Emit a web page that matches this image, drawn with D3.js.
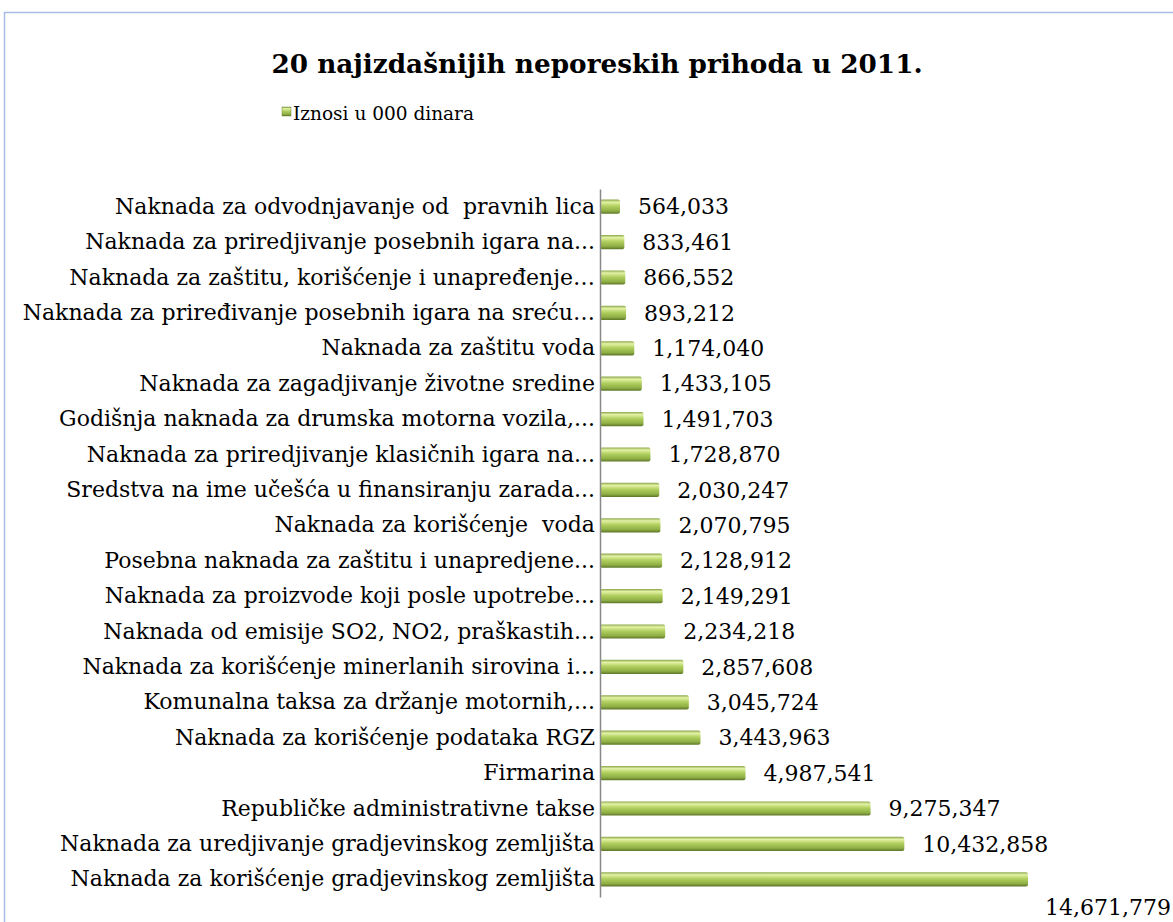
<!doctype html>
<html lang="en">
<head>
<meta charset="utf-8">
<title>20 najizdašnijih neporeskih prihoda u 2011.</title>
<script src="https://d3js.org/d3.v7.min.js"></script>
<style>
  body { margin:0; background:#fff; }
  text { font-family:"DejaVu Serif", serif; fill:#000; }
</style>
</head>
<body>
<script>
  var categories = [
    "Naknada za odvodnjavanje od  pravnih lica",
    "Naknada za priredjivanje posebnih igara na...",
    "Naknada za zaštitu, korišćenje i unapređenje…",
    "Naknada za priređivanje posebnih igara na sreću…",
    "Naknada za zaštitu voda",
    "Naknada za zagadjivanje životne sredine",
    "Godišnja naknada za drumska motorna vozila,...",
    "Naknada za priredjivanje klasičnih igara na...",
    "Sredstva na ime učešća u finansiranju zarada...",
    "Naknada za korišćenje  voda",
    "Posebna naknada za zaštitu i unapredjene...",
    "Naknada za proizvode koji posle upotrebe...",
    "Naknada od emisije SO2, NO2, praškastih...",
    "Naknada za korišćenje minerlanih sirovina i...",
    "Komunalna taksa za držanje motornih,...",
    "Naknada za korišćenje podataka RGZ",
    "Firmarina",
    "Republičke administrativne takse",
    "Naknada za uredjivanje gradjevinskog zemljišta",
    "Naknada za korišćenje gradjevinskog zemljišta"
  ];
  var values = [564033, 833461, 866552, 893212, 1174040, 1433105, 1491703, 1728870,
    2030247, 2070795, 2128912, 2149291, 2234218, 2857608, 3045724, 3443963,
    4987541, 9275347, 10432858, 14671779];
  var seriesName = "Iznosi u 000 dinara";
  var title = "20 najizdašnijih neporeskih prihoda u 2011.";

  var W = 1173, H = 922;
  var margin = {top:189, left:600, bottom:25, right:100};
  var fontSize = "22px";

  var svg = d3.select("body").append("svg")
    .attr("width", W).attr("height", H);

  var defs = svg.append("defs");
  var grad = defs.append("linearGradient").attr("id", "barGrad")
    .attr("x1", 0).attr("y1", 0).attr("x2", 0).attr("y2", 1);
  [[0, "#8aa64a"], [0.18, "#e4f2a6"], [0.45, "#b2d161"], [0.8, "#8fae44"], [1, "#5c7628"]]
    .forEach(function(s){ grad.append("stop").attr("offset", s[0]).attr("stop-color", s[1]); });

  // chart area border
  svg.append("path")
    .attr("d", "M4.5," + H + "V12.5H" + W)
    .attr("fill", "none").attr("stroke", "#a7bde3").attr("stroke-width", 1.5);

  svg.append("text")
    .attr("x", 597).attr("y", 73)
    .attr("text-anchor", "middle")
    .style("font-weight", "bold").style("font-size", "26.3px")
    .text(title);

  // legend
  var lg = svg.append("g").attr("transform", "translate(282,120)");
  lg.append("rect").attr("x", 0).attr("y", -13).attr("width", 9).attr("height", 9)
    .attr("fill", "url(#barGrad)").attr("stroke", "#6e8a37").attr("stroke-width", 0.5);
  lg.append("text").attr("x", 11).attr("y", 0)
    .style("font-size", "18.5px").text(seriesName);

  var x = d3.scaleLinear()
    .domain([0, d3.max(values)])
    .range([margin.left, 1028]);

  var y = d3.scaleBand()
    .domain(categories)
    .range([margin.top, H - margin.bottom])
    .paddingInner(0.6).paddingOuter(0.3);

  var g = svg.append("g");

  g.selectAll("rect.bar")
    .data(values)
    .enter().append("rect")
    .attr("class", "bar")
    .attr("x", x(0))
    .attr("y", function(d, i){ return y(categories[i]); })
    .attr("width", function(d){ return Math.max(x(d) - x(0), 20); })
    .attr("height", y.bandwidth())
    .attr("rx", 2)
    .attr("fill", "url(#barGrad)");

  // category labels
  var yAxis = d3.axisLeft(y).tickSize(0).tickPadding(5);
  var ag = svg.append("g").attr("transform", "translate(" + x(0) + ",0)").call(yAxis);
  ag.select(".domain").attr("stroke", "#888").attr("stroke-width", 1.5);
  ag.selectAll(".tick text")
    .style("font-family", "'DejaVu Serif', serif")
    .style("font-size", fontSize).attr("fill", "#000")
    .style("white-space", "pre");

  // value labels (last one overflows and drops below its bar)
  var fmt = d3.format(",");
  var over = function(d){ return x(d) + 150 > W; };
  g.selectAll("text.val")
    .data(values)
    .enter().append("text")
    .attr("class", "val")
    .style("font-size", fontSize)
    .attr("text-anchor", function(d){ return over(d) ? "end" : "start"; })
    .attr("x", function(d){ return over(d) ? W - 2 : Math.max(x(d), x(0) + 20) + 18; })
    .attr("y", function(d, i){
      var cy = y(categories[i]) + y.bandwidth() / 2;
      return over(d) ? cy + 28 : cy;
    })
    .attr("dy", "0.35em")
    .text(function(d){ return fmt(d); });
</script>
</body>
</html>
